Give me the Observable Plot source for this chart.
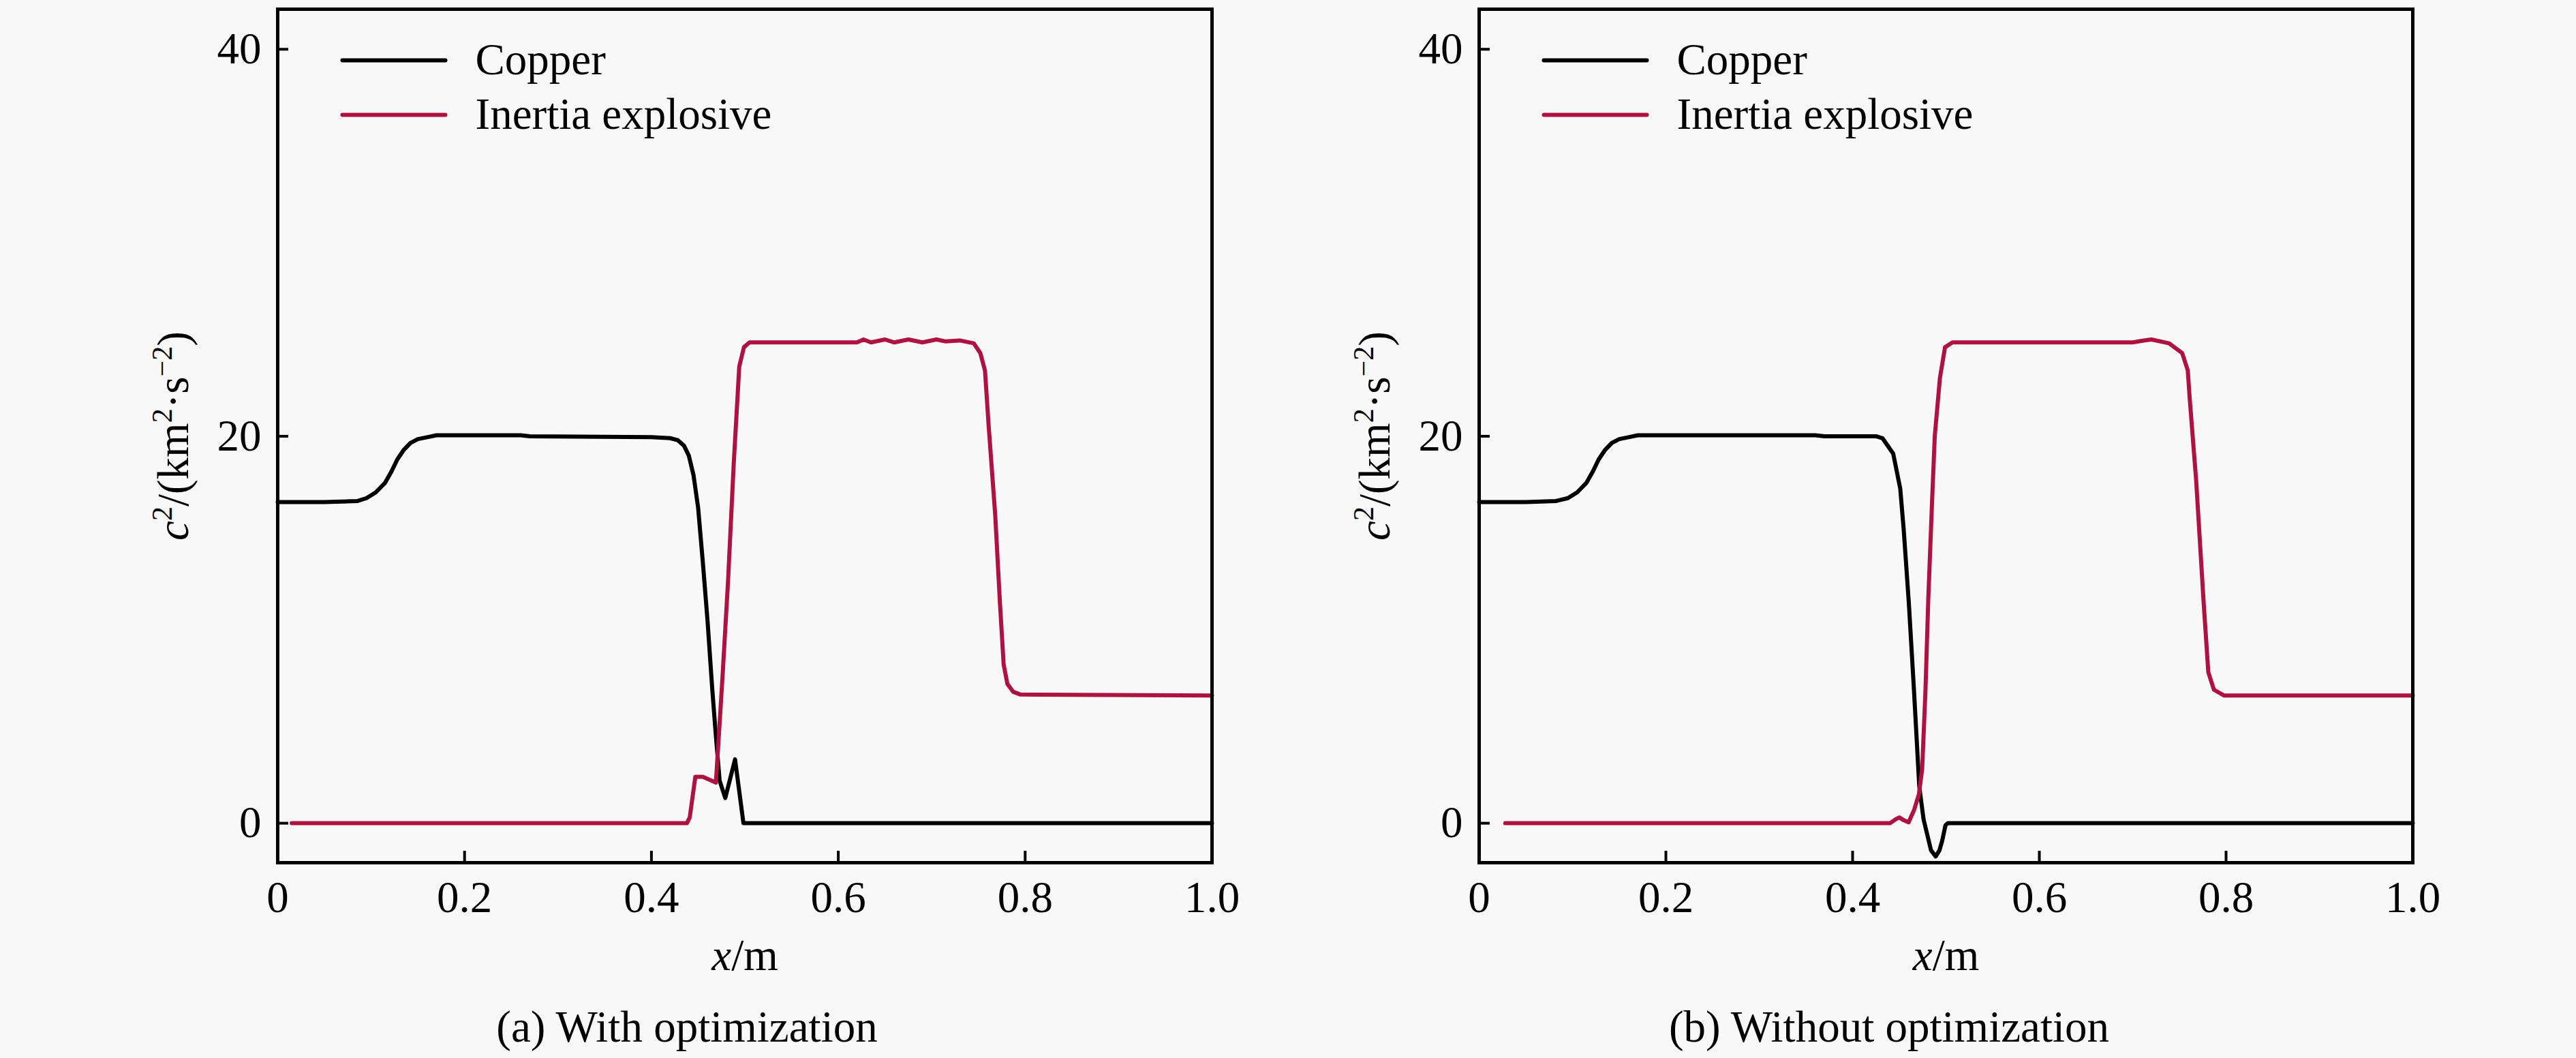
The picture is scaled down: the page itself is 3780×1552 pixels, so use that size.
<!DOCTYPE html>
<html>
<head>
<meta charset="utf-8">
<script src="https://cdn.jsdelivr.net/npm/d3@7"></script>
<script src="https://cdn.jsdelivr.net/npm/@observablehq/plot@0.6"></script>
<style>
  html, body { margin: 0; padding: 0; background: #f8f8f8; }
  #wrap { position: relative; width: 3780px; height: 1552px; font-family: "Liberation Serif", "Times New Roman", serif; color: #000; }
  .panel { position: absolute; top: 0; width: 1890px; height: 1440px; }
  .cap { position: absolute; top: 1474px; width: 1000px; height: 65px; line-height: 65px; font-size: 65px; text-align: center; white-space: nowrap; }
</style>
</head>
<body>
<div id="wrap">
  <div class="panel" id="pa" style="left:0px"></div>
  <div class="panel" id="pb" style="left:1890px"></div>
  <div class="cap" id="capA" style="left:508px"></div>
  <div class="cap" id="capB" style="left:2272px"></div>
</div>
<script>
// ---- chart data ----
const xTicks = [0, 0.2, 0.4, 0.6, 0.8, 1.0];
const yTicks = [0, 20, 40];
const seriesNames = ["Copper", "Inertia explosive"];
const seriesColors = ["#000000", "#ad1240"];
const captions = ["(a) With optimization", "(b) Without optimization"];
const xLabel = "x/m";
const yLabel = "c2/(km2·s−2)";

// (a) With optimization
const copperA_x = [0, 0.05, 0.085, 0.095, 0.105, 0.115, 0.122, 0.128, 0.135, 0.142, 0.15, 0.16, 0.17, 0.26, 0.27, 0.40, 0.42, 0.428, 0.435, 0.44, 0.445, 0.45, 0.455, 0.46, 0.465, 0.469, 0.473, 0.479, 0.4895, 0.4985, 1.0];
const copperA_y = [16.6, 16.6, 16.65, 16.8, 17.1, 17.6, 18.2, 18.8, 19.3, 19.65, 19.85, 19.95, 20.05, 20.05, 20.0, 19.95, 19.9, 19.8, 19.5, 19.0, 18.0, 16.3, 13.5, 10.5, 7.0, 4.5, 2.2, 1.3, 3.3, 0, 0];
const explA_x = [0.015, 0.438, 0.441, 0.447, 0.455, 0.469, 0.476, 0.482, 0.488, 0.494, 0.499, 0.505, 0.6, 0.62, 0.627, 0.635, 0.65, 0.66, 0.675, 0.69, 0.705, 0.715, 0.73, 0.745, 0.752, 0.757, 0.761, 0.768, 0.773, 0.777, 0.781, 0.787, 0.795, 1.0];
const explA_y = [0, 0, 0.3, 2.4, 2.4, 2.1, 7.5, 12.5, 18.5, 23.6, 24.6, 24.85, 24.85, 24.85, 25.0, 24.85, 25.0, 24.85, 25.0, 24.85, 25.0, 24.9, 24.95, 24.8, 24.3, 23.4, 20.5, 15.9, 11.4, 8.2, 7.2, 6.8, 6.65, 6.6];

// (b) Without optimization
const copperB_x = [0, 0.05, 0.082, 0.095, 0.105, 0.115, 0.122, 0.128, 0.135, 0.142, 0.15, 0.16, 0.17, 0.36, 0.37, 0.425, 0.432, 0.4435, 0.451, 0.4547, 0.4602, 0.4657, 0.4714, 0.476, 0.4795, 0.484, 0.489, 0.493, 0.496, 0.4995, 0.502, 1.0];
const copperB_y = [16.6, 16.6, 16.65, 16.8, 17.1, 17.6, 18.2, 18.8, 19.3, 19.65, 19.85, 19.95, 20.05, 20.05, 20.0, 20.0, 19.9, 19.1, 17.3, 15.2, 11.4, 6.9, 1.9, 0.2, -0.5, -1.4, -1.72, -1.4, -0.9, -0.1, 0, 0];
const explB_x = [0.028, 0.44, 0.446, 0.45, 0.455, 0.46, 0.466, 0.471, 0.4745, 0.478, 0.481, 0.485, 0.488, 0.4935, 0.499, 0.507, 0.70, 0.712, 0.72, 0.739, 0.753, 0.759, 0.761, 0.768, 0.776, 0.781, 0.787, 0.798, 1.0];
const explB_y = [0, 0, 0.2, 0.3, 0.15, 0.05, 0.7, 1.5, 2.8, 6.8, 11.5, 16.5, 20.0, 23.0, 24.6, 24.85, 24.85, 24.95, 25.0, 24.8, 24.3, 23.4, 22.0, 17.7, 11.4, 7.8, 6.9, 6.6, 6.6];

// ---- helpers ----
function rows(xs, ys, series) { return xs.map((x, i) => ({x, y: ys[i], series})); }

const lineShape = { draw(context, l) { context.moveTo(0, 0); context.lineTo(0, -l); } };

function makePanel(cx, cy, ex, ey, marginLeft, marginRight) {
  const data = [...rows(cx, cy, seriesNames[0]), ...rows(ex, ey, seriesNames[1])];
  const legendMarks = seriesNames.flatMap((name, i) => [
    Plot.vector([name], {frameAnchor: "top-left", dx: 95, dy: 75 + 80 * i, length: 151, rotate: 90, anchor: "start",
      shape: lineShape, stroke: seriesColors[i], strokeWidth: 6}),
    Plot.text([name], {frameAnchor: "top-left", dx: 290, dy: 75 + 80 * i, text: d => d, textAnchor: "start", lineAnchor: "middle", fontSize: 65})
  ]);
  const chart = Plot.plot({
    width: 1890, height: 1440,
    marginLeft, marginRight, marginTop: 13, marginBottom: 175,
    x: {domain: [0, 1]},
    y: {domain: [-2.04, 42.07]},
    color: {domain: seriesNames, range: seriesColors},
    style: {fontFamily: "Liberation Serif, Times New Roman, serif", fontSize: "65px", background: "transparent", color: "#000", overflow: "visible"},
    marks: [
      Plot.line(data, {x: "x", y: "y", z: "series", stroke: "series", strokeWidth: 6, strokeLinejoin: "round", strokeLinecap: "round"}),
      Plot.axisX({ticks: xTicks, tickFormat: d => d === 0 ? "0" : d.toFixed(1), tickSize: -17, tickPadding: 43, strokeWidth: 4, label: null, fontSize: 65}),
      Plot.axisY({ticks: yTicks, tickFormat: d => String(d), tickSize: -16, tickPadding: 40, strokeWidth: 4, label: null, fontSize: 65}),
      Plot.frame({strokeWidth: 5}),
      ...legendMarks,
      Plot.text([xLabel], {frameAnchor: "bottom", dy: 157, text: d => d, lineAnchor: "bottom", fontSize: 65}),
      Plot.text([yLabel], {frameAnchor: "left", dx: -132, rotate: -90, text: d => d, lineAnchor: "bottom", textAnchor: "middle", fontSize: 65})
    ]
  });
  // rich formatting for the axis labels (italic variable, superscripts)
  const svg = d3.select(chart.tagName === "svg" ? chart : chart.querySelector("svg"));
  svg.selectAll("text").filter(function () { return this.textContent === xLabel; }).each(function () {
    const t = d3.select(this); t.text(null);
    t.append("tspan").attr("font-style", "italic").text("x");
    t.append("tspan").text("/m");
  });
  svg.selectAll("text").filter(function () { return this.textContent === yLabel; }).each(function () {
    const t = d3.select(this); t.text(null);
    t.append("tspan").attr("font-style", "italic").text("c");
    t.append("tspan").attr("dy", -24).attr("font-size", 42).text("2");
    t.append("tspan").attr("dy", 24).text("/(km");
    t.append("tspan").attr("dy", -24).attr("font-size", 42).text("2");
    t.append("tspan").attr("dy", 24).text("·s");
    t.append("tspan").attr("dy", -24).attr("font-size", 42).text("−2");
    t.append("tspan").attr("dy", 24).text(")");
  });
  return chart;
}

document.getElementById("pa").appendChild(makePanel(copperA_x, copperA_y, explA_x, explA_y, 407, 112));
document.getElementById("pb").appendChild(makePanel(copperB_x, copperB_y, explB_x, explB_y, 280, 240));
document.getElementById("capA").textContent = captions[0];
document.getElementById("capB").textContent = captions[1];
</script>
</body>
</html>
